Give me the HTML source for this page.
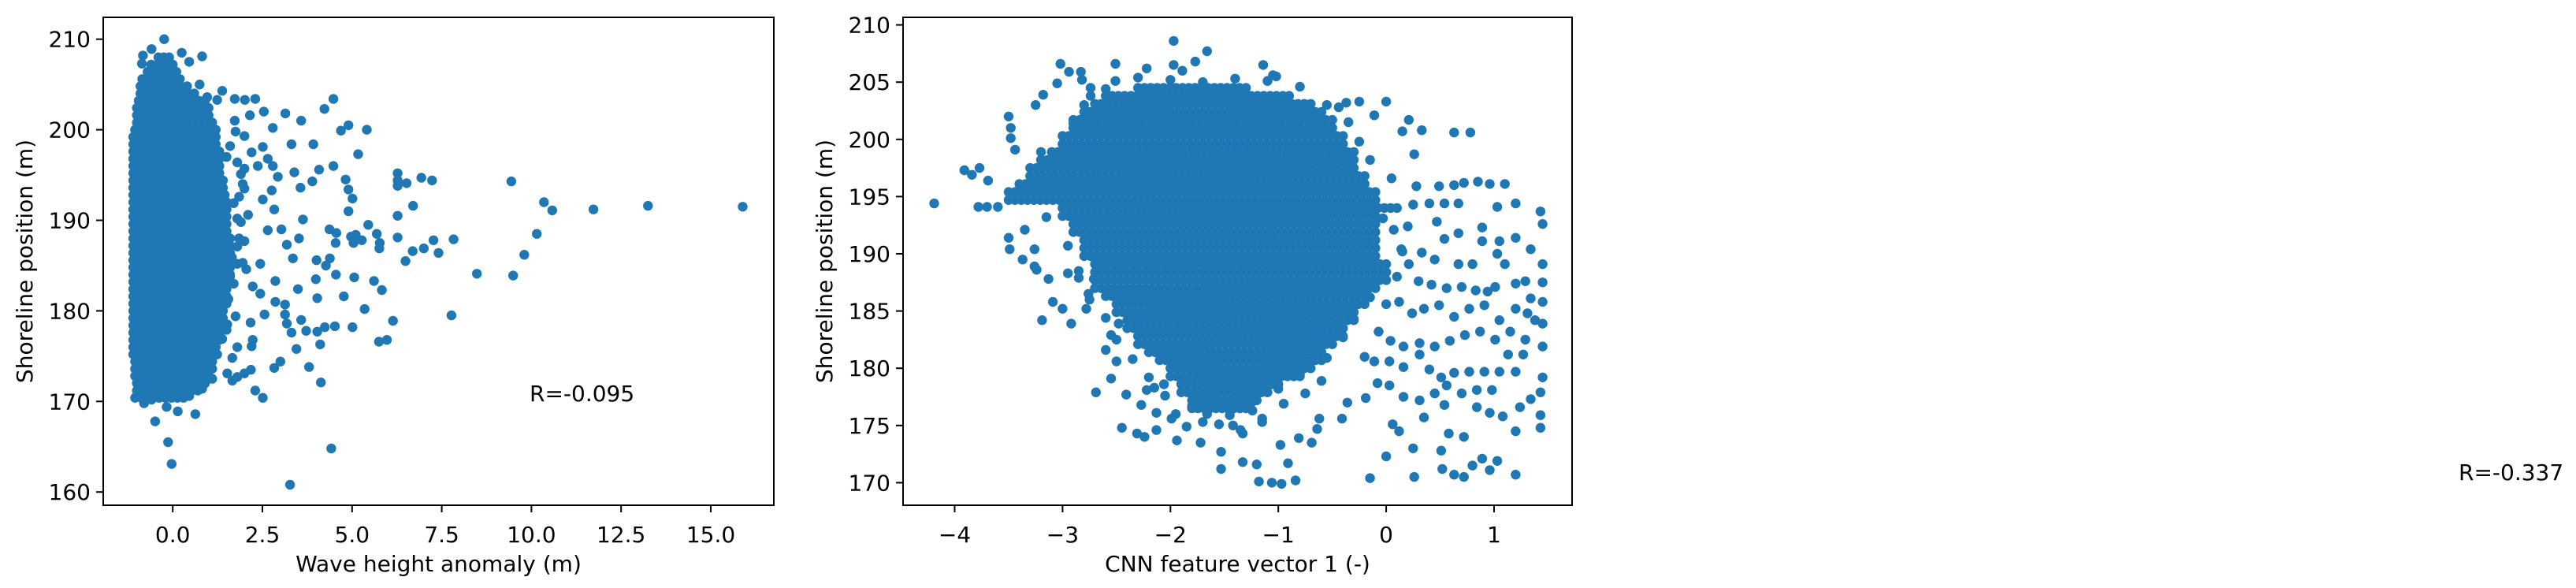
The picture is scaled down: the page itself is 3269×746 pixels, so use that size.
<!DOCTYPE html>
<html><head><meta charset="utf-8"><style>
html,body{margin:0;padding:0;background:#fff;}
svg{display:block;font-family:"DejaVu Sans","Liberation Sans",sans-serif;}
</style></head><body>
<svg id="fig" width="3269" height="746" viewBox="0 0 3269 746" xmlns="http://www.w3.org/2000/svg">
<rect width="3269" height="746" fill="#fff"/>
<g id="ax1"></g>
<g id="ax2"></g>
<text x="3120" y="609" font-size="28">R=-0.337</text>
</svg>
<script>
// ---------- Data: panel 1 (wave height anomaly vs shoreline) ----------
const waveX = [15.89,13.25,11.73,10.58,10.35,10.15,9.80,9.49,9.44,8.48,7.83,7.77,7.41,7.27,7.23,7.0,6.93,6.70,6.69,6.52,6.49,6.27,6.27,6.27,6.27,6.27,6.14,5.97,5.75,5.83,5.61,5.77,5.76,5.69,5.45,5.41,5.35,5.27,5.17,5.1,5.04,5.06,5.01,5.01,4.97,4.90,4.90,4.90,4.82,4.77,4.69,4.55,4.54,4.56,4.52,4.48,4.48,4.42,4.38,4.37,4.23,4.24,4.27,4.11,4.13,4.08,4.03,4.03,4.01,3.99,3.92,3.89,3.80,3.72,3.58,3.49,3.45,3.27,3.31,3.18,3.13,3.13,3.0,2.83,2.51,2.30,2.18,2.20,2.23,2.17,-0.03,-0.13,-0.49,0.63,0.14,3.58,3.14,3.31,3.39,3.56,3.63,3.52,3.35,3.18,3.03,2.83,2.76,2.93,2.79,2.65,2.51,2.54,2.30,2.01,1.73,1.38,2.79,2.37,2.51,2.65,2.44,2.86,2.44,2.86,2.56,2.23,1.80,2.0,1.80,2.0,1.80,2.0,1.73,1.38,1.52,1.38,1.80,1.66,1.24,1.52,1.10,0.82,0.46,-0.17,-0.80,-0.59,1.80,1.66,2.0,0.96,1.24,0.82,0.46,0.25,-0.24,-0.83,-0.86,-0.59,0.75,1.24,0.96,1.6,1.9,2.1,1.5,1.7,2.2,1.45,1.85,2.05,1.55,1.75,1.95,1.4,1.65,2.15,1.5,1.9,1.7,1.8,2.0,1.6,1.5,1.75,1.85,1.95];
const waveY = [191.5,191.6,191.2,191.1,192.0,188.5,186.2,183.9,194.3,184.1,187.9,179.5,186.4,187.8,194.4,186.9,194.7,191.6,186.6,194.1,185.5,195.2,194.4,193.8,190.5,188.1,178.9,176.8,176.6,182.3,183.3,187.5,186.9,188.5,189.5,200.0,180.2,187.8,197.3,188.4,187.5,183.7,178.2,192.4,188.2,191.0,193.4,200.5,194.5,181.6,199.9,184.0,187.5,188.6,178.3,203.4,196.0,164.8,185.8,189.0,202.3,178.2,185.0,176.3,172.1,195.6,177.7,181.4,185.6,183.5,198.4,194.3,173.8,177.8,179.0,182.4,175.8,160.8,177.6,178.6,179.6,180.7,174.4,173.7,170.4,171.2,173.5,176.1,176.8,178.7,163.1,165.5,167.8,168.6,168.9,201.0,201.8,198.4,195.3,193.6,190.1,188.0,185.8,187.3,189.0,191.2,193.3,194.8,196.0,196.8,198.1,202.0,203.4,203.3,203.4,204.3,200.2,196.0,192.3,188.9,185.2,183.3,181.9,181.0,179.6,182.7,185.2,187.7,190.2,193.5,196.4,199.3,201.0,180.8,178.5,176.9,176.0,174.8,175.2,173.1,172.5,171.4,170.6,169.4,169.8,170.2,172.7,172.3,173.1,177.7,180.2,208.1,207.5,208.5,210.0,208.2,207.3,208.9,205.0,203.3,203.6,198.2,195.1,190.6,186.3,183.0,197.5,192.8,188.0,184.6,181.3,199.8,194.0,189.4,185.9,201.6,177.9,189.8,191.9,187.1,195.7,183.8,197.0,179.4,192.6,185.3];
// dense core rows (row y, left x, right x)
const waveCoreY  = [170.4,171.2,172.0,172.8,173.6,174.4,175.2,176.0,176.8,177.6,178.4,179.2,180.0,180.8,181.6,182.4,183.2,184.0,184.8,185.6,186.4,187.2,188.0,188.8,189.6,190.4,191.2,192.0,192.8,193.6,194.4,195.2,196.0,196.8,197.6,198.4,199.2,200.0,200.8,201.6,202.4,203.2,204.0,204.8,205.6,206.4,207.2,208.0];
const waveCoreX0 = [-1.05,-1.0,-1.0,-1.05,-1.05,-1.05,-1.1,-1.1,-1.1,-1.1,-1.1,-1.1,-1.1,-1.1,-1.1,-1.1,-1.1,-1.1,-1.1,-1.1,-1.1,-1.1,-1.1,-1.1,-1.1,-1.1,-1.1,-1.1,-1.1,-1.1,-1.1,-1.1,-1.1,-1.1,-1.1,-1.1,-1.1,-1.05,-1.0,-1.0,-1.0,-0.95,-0.9,-0.9,-0.85,-0.7,-0.6,-0.4];
const waveCoreX1 = [0.3,0.7,0.9,1.0,1.1,1.1,1.2,1.2,1.3,1.3,1.3,1.4,1.4,1.5,1.5,1.5,1.5,1.6,1.6,1.6,1.6,1.6,1.6,1.5,1.5,1.5,1.5,1.5,1.4,1.4,1.4,1.3,1.3,1.3,1.3,1.2,1.2,1.2,1.1,1.0,1.0,0.9,0.6,0.4,0.2,0.1,0.0,-0.1];
const waveTicksX = [0,2.5,5,7.5,10,12.5,15];
const waveTickLabelsX = ["0.0","2.5","5.0","7.5","10.0","12.5","15.0"];
const waveTicksY = [160,170,180,190,200,210];

// ---------- Data: panel 2 (CNN feature vs shoreline) ----------
const cnnX = [-4.19,-3.91,-3.84,-3.77,-3.69,-3.78,-3.70,-3.60,-3.50,-3.48,-3.48,-3.44,-3.50,-3.49,-3.37,-3.35,-3.26,-3.26,-3.24,-3.13,-3.09,-3.0,-3.19,-2.92,-3.25,-3.18,-3.05,-2.94,-2.82,-2.74,-2.69,-2.55,-2.45,-2.41,-2.31,-2.24,-2.13,-1.94,-1.72,-1.53,-1.53,-1.33,-1.20,-1.18,-1.06,-0.97,-0.84,-0.91,-0.98,-0.69,-0.64,-0.41,-0.36,-0.15,-0.19,0.0,0.06,0.26,0.25,0.35,0.51,0.52,0.63,0.72,0.80,0.89,0.96,1.03,1.20,1.20,1.43,1.45,1.45,1.45,1.45,1.43,1.20,1.34,1.20,1.03,0.96,1.10,0.78,0.63,0.21,0.33,0.15,0.0,-0.11,-0.25,-0.37,-0.44,0.26,0.28,0.49,0.63,0.72,0.85,0.67,0.54,0.40,0.47,0.54,0.67,0.89,0.89,1.05,1.03,1.10,1.29,1.20,1.01,0.94,0.83,0.70,0.56,0.42,0.30,0.21,0.14,0.07,-0.03,0.12,0.24,0.35,0.49,0.63,0.77,0.91,1.05,1.20,1.31,1.38,1.29,1.15,1.01,0.87,0.73,0.59,0.45,0.31,0.16,0.04,-0.07,-0.11,0.03,0.16,0.31,0.40,0.51,0.63,0.77,0.91,1.05,1.20,1.27,1.13,0.98,0.84,0.70,0.56,0.45,0.31,0.16,0.03,-0.08,1.34,1.24,1.08,0.96,0.84,0.72,0.58,0.54,0.12,1.43,1.43,1.45,1.45,1.45,1.34,0.80,0.67,0.45,0.33,-0.62,-0.81,-1.15,-1.24,-1.33,-1.42,-1.66,-1.80,-1.99,-2.13,-2.27,-2.22,-2.06,-2.50,-2.60,-2.55,-2.48,-2.78,-2.76,-2.71,-2.85,-2.95,-3.02,-2.83,-2.74,-2.51,-2.51,-2.22,-1.97,-1.97,-1.89,-1.77,-1.66,-1.14,-1.05,-1.02,
  -3.1,-3.2,-2.9,-3.15,-2.95,-2.85,-2.75,-2.6,-2.5,-2.35,-2.2,-2.05,-1.95,-1.7,-1.45,-1.25,-1.0,-0.8,-0.55,-0.4,-0.3,-0.15,0.1,0.15,0.2,0.25,0.05,-0.15,-0.25,-0.35,-0.55,-0.8,-1.1,-1.4,-1.7,-2.0,-2.3,-2.6,-2.8,-1.55,-1.35,-1.15,-0.95,-0.75,-2.15,-1.85,-0.6,-0.2,0.0];
const cnnY = [194.4,197.3,196.9,197.5,196.4,194.1,194.1,194.1,202.0,201.0,200.1,199.1,191.4,190.4,189.5,192.1,190.4,188.9,188.6,187.8,185.8,185.2,184.2,183.9,203.0,203.9,204.9,205.9,205.2,204.5,177.9,179.1,174.8,177.7,174.3,174.0,174.6,173.7,173.5,172.7,171.2,171.8,171.6,170.1,170.0,169.9,170.2,171.7,173.3,173.5,174.7,175.6,177.0,170.4,177.4,172.3,175.1,170.5,173.0,175.7,172.8,171.2,170.7,170.5,171.5,172.1,171.1,171.9,170.7,174.5,174.8,179.2,183.9,187.5,192.6,193.7,194.4,190.4,191.4,194.1,196.1,196.1,200.6,200.6,201.7,200.8,200.7,203.3,202.1,203.3,203.2,202.8,198.7,195.9,195.9,196.0,196.2,196.3,194.4,194.4,194.4,192.8,191.3,191.8,192.3,191.1,191.1,190.0,189.1,187.6,187.4,187.1,186.7,186.8,187.1,187.0,187.3,187.6,189.1,190.4,192.1,193.1,185.8,184.8,185.2,185.5,184.5,185.2,185.5,184.2,185.2,184.8,184.2,182.5,183.2,182.5,183.2,182.9,182.4,181.9,182.2,181.9,182.4,183.2,180.6,180.6,180.1,181.2,179.9,179.2,179.6,179.7,179.7,179.7,179.7,181.2,181.2,178.1,178.1,177.8,178.5,177.8,177.2,177.5,178.5,178.7,177.3,176.6,175.8,176.1,176.6,174.0,174.3,176.8,174.5,175.9,177.9,181.9,185.8,189.1,186.1,189.1,189.1,189.5,190.1,175.6,173.9,175.3,176.3,174.3,175.0,176.0,176.7,175.6,176.1,176.8,178.1,178.6,180.6,181.6,182.9,183.9,185.2,186.5,187.8,188.5,188.3,206.6,205.9,203.8,206.6,205.1,206.2,208.6,206.5,206.0,206.8,207.7,206.5,205.6,205.5,
  196.5,198.9,201.4,193.2,190.7,187.9,186.0,184.4,182.5,180.8,179.2,177.6,176.0,175.3,175.9,177.0,178.2,179.5,180.9,182.7,184.3,186.2,188.0,190.2,192.4,194.3,196.6,198.2,199.8,201.5,203.0,204.6,205.1,205.3,205.0,205.2,205.4,204.4,203.0,175.1,174.6,175.6,176.9,177.8,178.3,174.9,178.9,181.0,185.6];
const cnnCoreY  = [204.5,203.8,203.1,202.4,201.7,201.0,200.3,199.6,198.9,198.2,197.5,196.8,196.1,195.4,194.7,194.0,193.3,192.6,191.9,191.2,190.5,189.8,189.1,188.4,187.7,187.0,186.3,185.6,184.9,184.2,183.5,182.8,182.1,181.4,180.7,180.0,179.3,178.6,177.9,177.2,176.5];
const cnnCoreX0 = [-2.3,-2.6,-2.7,-2.8,-2.9,-2.9,-3.0,-3.0,-3.1,-3.2,-3.3,-3.3,-3.4,-3.5,-3.5,-3.0,-3.0,-2.9,-2.9,-2.8,-2.8,-2.8,-2.7,-2.7,-2.7,-2.7,-2.6,-2.5,-2.5,-2.4,-2.4,-2.3,-2.3,-2.2,-2.1,-2.0,-2.0,-1.9,-1.9,-1.8,-1.8];
const cnnCoreX1 = [-1.3,-0.9,-0.7,-0.6,-0.5,-0.5,-0.4,-0.4,-0.3,-0.3,-0.3,-0.2,-0.2,-0.1,-0.1,0.1,-0.1,-0.1,-0.1,-0.1,-0.1,-0.1,0.0,0.0,0.0,-0.1,-0.2,-0.2,-0.3,-0.3,-0.4,-0.4,-0.5,-0.6,-0.6,-0.7,-0.8,-1.0,-1.1,-1.2,-1.3];
const cnnTicksX = [-4,-3,-2,-1,0,1];
const cnnTicksY = [170,175,180,185,190,195,200,205,210];

// ---------- Drawing ----------
const NS = "http://www.w3.org/2000/svg";
const BLUE = "#1f77b4";
const DOT_R = 6.2;
function mk(tag, attrs, parent){const e=document.createElementNS(NS,tag);for(const k in attrs)e.setAttribute(k,attrs[k]);parent.appendChild(e);return e;}

function drawPanel(g, cfg){
  const sx = v => cfg.xPx0 + (v - cfg.xV0) * cfg.xK;
  const sy = v => cfg.yPx0 + (cfg.yV0 - v) * cfg.yK;
  const clipId = cfg.id + "-clip";
  const defs = mk("defs", {}, g);
  const cp = mk("clipPath", {id: clipId}, defs);
  mk("rect", {x: cfg.L, y: cfg.T, width: cfg.R - cfg.L, height: cfg.B - cfg.T}, cp);
  const pts = mk("g", {"clip-path": "url(#" + clipId + ")", fill: BLUE}, g);
  
  
  for (let i = 0; i < cfg.coreY.length; i++) {
    const y = sy(cfg.coreY[i]);
    const a = sx(cfg.coreX0[i]), b = sx(cfg.coreX1[i]);
    const n = Math.max(1, Math.round((b - a) / 8));
    for (let j = 0; j <= n; j++) {
      const c = mk("circle", {cx: (a + (b - a) * j / n).toFixed(1), cy: y.toFixed(1), r: DOT_R}, pts);
      
      
    }
  }
  for (let i = 0; i < cfg.xs.length; i++) {
    const c = mk("circle", {cx: sx(cfg.xs[i]).toFixed(1), cy: sy(cfg.ys[i]).toFixed(1), r: DOT_R}, pts);
    
    
  }
  const frame = mk("rect", {x: cfg.L, y: cfg.T, width: cfg.R - cfg.L, height: cfg.B - cfg.T, fill: "none", stroke: "#000", "stroke-width": 2}, g);
  
  
  cfg.ticksX.forEach((v, i) => {
    const x = sx(v);
    mk("line", {x1: x, x2: x, y1: cfg.B, y2: cfg.B + 9, stroke: "#000", "stroke-width": 2}, g);
    const t = mk("text", {x: x, y: 688, "font-size": 28, "text-anchor": "middle"}, g);
    t.textContent = cfg.tickLabelsX[i];
    
    
  });
  cfg.ticksY.forEach(v => {
    const y = sy(v);
    mk("line", {x1: cfg.L - 9, x2: cfg.L, y1: y, y2: y, stroke: "#000", "stroke-width": 2}, g);
    const t = mk("text", {x: cfg.L - 16, y: y + 10, "font-size": 28, "text-anchor": "end"}, g);
    t.textContent = String(v);
    
    
  });
  const xl = mk("text", {x: (cfg.L + cfg.R) / 2, y: 725, "font-size": 28, "text-anchor": "middle"}, g);
  xl.textContent = cfg.xLabel;
  
  
  const yc = (cfg.T + cfg.B) / 2;
  const yl = mk("text", {x: cfg.yLabelX, y: yc, "font-size": 28, "text-anchor": "middle", transform: "rotate(-90 " + cfg.yLabelX + " " + yc + ")"}, g);
  yl.textContent = "Shoreline position (m)";
  
  
  if (cfg.annot) {
    const a = mk("text", {x: cfg.annot[0], y: cfg.annot[1], "font-size": 28}, g);
    a.textContent = cfg.annot[2];
    
    
  }
}

drawPanel(document.getElementById("ax1"), {
  id: "wave", L: 131, R: 982, T: 22, B: 641,
  xPx0: 219.2, xV0: 0, xK: 45.52, yPx0: 49.7, yV0: 210, yK: 11.49,
  xs: waveX, ys: waveY, coreY: waveCoreY, coreX0: waveCoreX0, coreX1: waveCoreX1,
  ticksX: waveTicksX, tickLabelsX: waveTickLabelsX, ticksY: waveTicksY,
  xLabel: "Wave height anomaly (m)", yLabelX: 41, annot: [672, 509, "R=-0.095"]
});
drawPanel(document.getElementById("ax2"), {
  id: "cnn", L: 1146, R: 1995, T: 22, B: 641,
  xPx0: 1211.5, xV0: -4, xK: 136.9, yPx0: 31.6, yV0: 210, yK: 14.52,
  xs: cnnX, ys: cnnY, coreY: cnnCoreY, coreX0: cnnCoreX0, coreX1: cnnCoreX1,
  ticksX: cnnTicksX, tickLabelsX: cnnTicksX.map(v => v < 0 ? "\u2212" + Math.abs(v) : String(v)), ticksY: cnnTicksY,
  xLabel: "CNN feature vector 1 (-)", yLabelX: 1056, annot: null
});
</script>
</body></html>
